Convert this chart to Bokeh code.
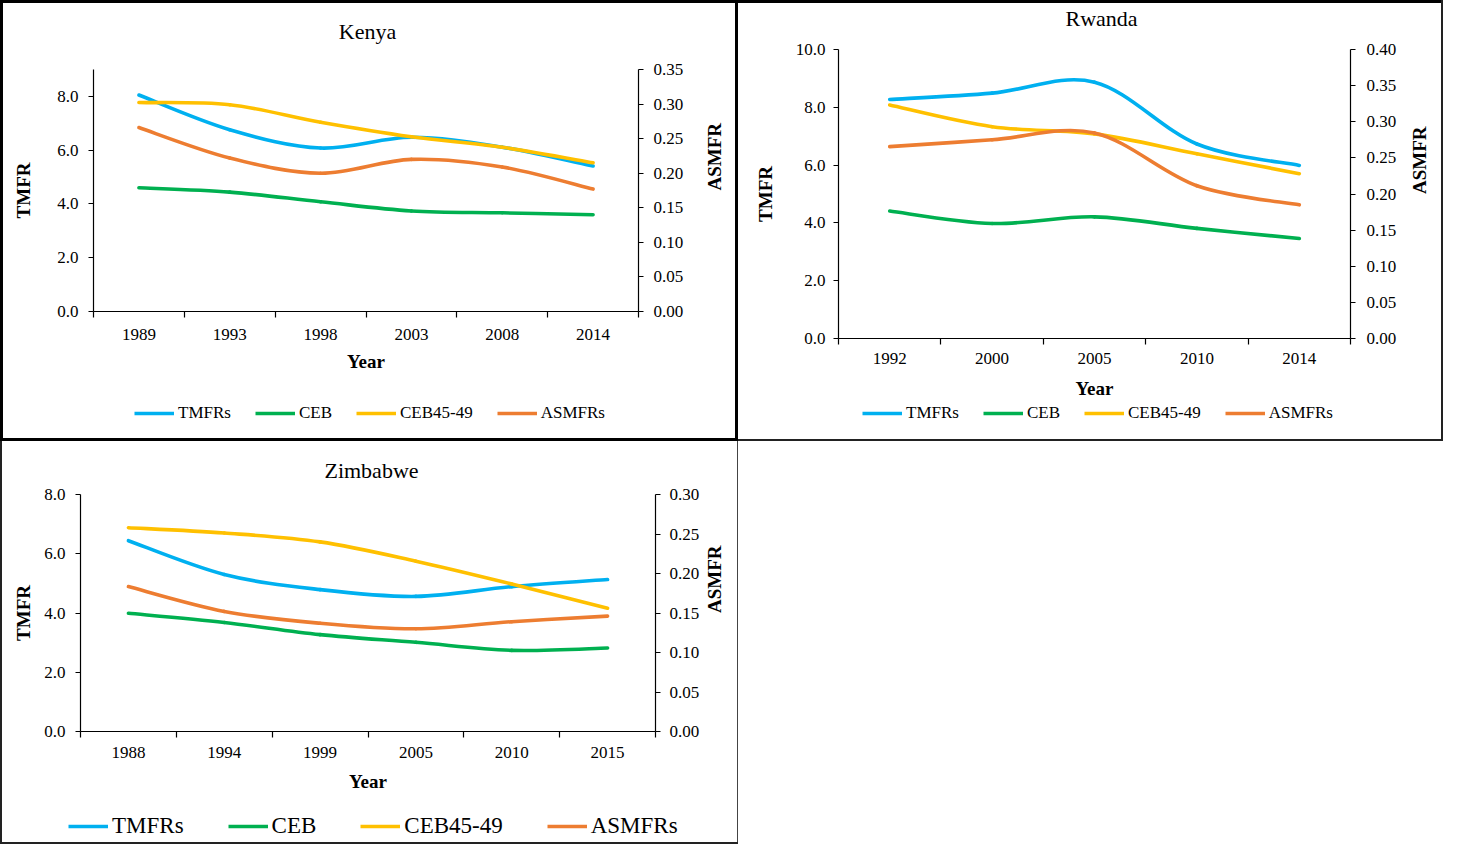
import math
from bokeh.plotting import figure
from bokeh.models import (Range1d, LinearAxis, FixedTicker, NumeralTickFormatter,
                          Legend, LegendItem, Spacer)
from bokeh.layouts import row, column
from bokeh.core.properties import value
from bokeh.embed import file_html
from bokeh.resources import INLINE

FONT = "Liberation Serif"
SERIES = ["TMFRs", "CEB", "CEB45-49", "ASMFRs"]
COLORS = ["#00B0F0", "#00B050", "#FFC000", "#ED7D31"]
LW = 3.6

# ---------------- data ----------------
kenya_years = ["1989", "1993", "1998", "2003", "2008", "2014"]
kenya_tmfrs = [8.05, 6.76, 6.08, 6.48, 6.11, 5.41]
kenya_ceb = [4.60, 4.44, 4.08, 3.74, 3.67, 3.60]
kenya_ceb4549 = [7.77, 7.69, 7.04, 6.50, 6.11, 5.53]
kenya_asmfrs = [0.266, 0.222, 0.200, 0.220, 0.209, 0.177]

rwanda_years = ["1992", "2000", "2005", "2010", "2014"]
rwanda_tmfrs = [8.27, 8.49, 8.87, 6.73, 5.99]
rwanda_ceb = [4.41, 3.98, 4.21, 3.81, 3.46]
rwanda_ceb4549 = [8.08, 7.33, 7.08, 6.39, 5.70]
rwanda_asmfrs = [0.2656, 0.275, 0.2845, 0.2115, 0.185]

zimbabwe_years = ["1988", "1994", "1999", "2005", "2010", "2015"]
zimbabwe_tmfrs = [6.44, 5.30, 4.79, 4.56, 4.89, 5.13]
zimbabwe_ceb = [3.99, 3.68, 3.27, 3.01, 2.74, 2.82]
zimbabwe_ceb4549 = [6.88, 6.70, 6.40, 5.75, 4.98, 4.16]
zimbabwe_asmfrs = [0.1834, 0.152, 0.137, 0.130, 0.139, 0.146]


def bezier_cols(ys):
    """Smoothed-line segments (Catmull-Rom style control points) through the data."""
    n = len(ys)
    xs = list(range(n))
    d = dict(x0=[], y0=[], x1=[], y1=[], cx0=[], cy0=[], cx1=[], cy1=[])
    for i in range(n - 1):
        a = max(i - 1, 0)
        b = min(i + 2, n - 1)
        d["x0"].append(xs[i]); d["y0"].append(ys[i])
        d["x1"].append(xs[i + 1]); d["y1"].append(ys[i + 1])
        d["cx0"].append(xs[i] + (xs[i + 1] - xs[a]) / 6.0)
        d["cy0"].append(ys[i] + (ys[i + 1] - ys[a]) / 6.0)
        d["cx1"].append(xs[i + 1] - (xs[b] - xs[i]) / 6.0)
        d["cy1"].append(ys[i + 1] - (ys[b] - ys[i]) / 6.0)
    return d


def style_axis(ax):
    ax.axis_line_color = "black"
    ax.axis_line_width = 1.2
    ax.major_tick_line_color = "black"
    ax.minor_tick_line_color = "black"
    ax.major_tick_line_width = 1.2
    ax.minor_tick_line_width = 1.2
    ax.major_label_text_font = FONT
    ax.major_label_text_font_size = "17px"
    ax.major_label_text_color = "black"
    ax.axis_label_text_font = FONT
    ax.axis_label_text_font_style = "bold"
    ax.axis_label_text_font_size = "19px"
    ax.axis_label_text_color = "black"


def blank_strip(W, h):
    f = figure(width=W, height=h, x_range=Range1d(0, W), y_range=Range1d(0, h),
               x_axis_type=None, y_axis_type=None, toolbar_location=None,
               output_backend="svg", min_border=0)
    f.border_fill_color = None
    f.background_fill_color = None
    f.outline_line_color = None
    return f


def make_panel(title, years, series, ymax, yticks, rmax, rticks, s):
    n = len(years)
    W = s["W"]
    th, mh, lh = s["th"], s["mh"], s["lh"]

    # ---- title strip ----
    t = blank_strip(W, th)
    t.text(x=[s["tx"]], y=[s["ty"]], text=[title], text_font=value(FONT),
           text_font_size="22px", text_align="center", text_baseline="middle",
           text_color="black")

    # ---- main chart ----
    p = figure(width=W, height=mh, x_range=Range1d(-0.5, n - 0.5),
               y_range=Range1d(0, ymax), output_backend="svg",
               toolbar_location=None,
               min_border_left=s["fl"], min_border_right=W - s["fr"],
               min_border_top=s["ft"], min_border_bottom=s["fbb"])
    p.border_fill_color = None
    p.background_fill_color = None
    p.outline_line_color = None
    p.xgrid.visible = False
    p.ygrid.visible = False

    p.extra_y_ranges = {"r": Range1d(0, rmax)}
    raxis = LinearAxis(y_range_name="r")
    p.add_layout(raxis, "right")

    xa = p.below[0]
    style_axis(xa)
    xa.ticker = FixedTicker(ticks=list(range(n)),
                            minor_ticks=[i - 0.5 for i in range(n + 1)])
    xa.major_label_overrides = {i: y for i, y in enumerate(years)}
    xa.major_tick_out = 0
    xa.major_tick_in = 0
    xa.minor_tick_out = 6
    xa.minor_tick_in = 0
    xa.major_label_standoff = s["xls"]
    xa.axis_label = "Year"
    xa.axis_label_standoff = s["xas"]

    ya = p.left[0]
    style_axis(ya)
    ya.ticker = FixedTicker(ticks=yticks, minor_ticks=[])
    ya.formatter = NumeralTickFormatter(format="0.0")
    ya.major_tick_out = 5
    ya.major_tick_in = 0
    ya.minor_tick_out = 0
    ya.minor_tick_in = 0
    ya.major_label_standoff = s["yls"]
    ya.axis_label = "TMFR"
    ya.axis_label_standoff = s["yas"]

    style_axis(raxis)
    raxis.ticker = FixedTicker(ticks=rticks, minor_ticks=[])
    raxis.formatter = NumeralTickFormatter(format="0.00")
    raxis.major_tick_out = 5
    raxis.major_tick_in = 0
    raxis.minor_tick_out = 0
    raxis.minor_tick_in = 0
    raxis.major_label_standoff = s["rls"]
    raxis.axis_label = "ASMFR"
    raxis.axis_label_standoff = s["ras"]
    raxis.axis_label_orientation = math.pi / 2
    if s.get("rlh"):
        raxis.axis_label_text_line_height = s["rlh"]

    for name, color in zip(SERIES, COLORS):
        ys = series[name]
        kw = {"y_range_name": "r"} if name == "ASMFRs" else {}
        cols = bezier_cols(ys)
        p.bezier(x0=cols["x0"], y0=cols["y0"], x1=cols["x1"], y1=cols["y1"],
                 cx0=cols["cx0"], cy0=cols["cy0"], cx1=cols["cx1"], cy1=cols["cy1"],
                 line_color=color, line_width=LW, line_cap="round", **kw)

    # ---- legend strip (proxy lines lie outside the strip's ranges) ----
    lg = blank_strip(W, lh)
    items = []
    for name, color in zip(SERIES, COLORS):
        proxy = lg.line(x=[-200, -100], y=[-200, -200], line_color=color, line_width=LW)
        items.append(LegendItem(label=name, renderers=[proxy]))
    leg = Legend(items=items, orientation="horizontal", location=s["legloc"],
                 padding=0, margin=0, spacing=s["legsp"], glyph_width=40,
                 glyph_height=s["legh"], label_height=s["legh"], label_standoff=4,
                 border_line_color=None, background_fill_alpha=0,
                 label_text_font=FONT, label_text_font_size=s["legfs"],
                 label_text_color="black")
    lg.add_layout(leg)

    return column(column(t), column(p), column(lg),
                  styles={"box-shadow": s["shadow"]})


kenya = make_panel(
    "Kenya", kenya_years,
    {"TMFRs": kenya_tmfrs, "CEB": kenya_ceb, "CEB45-49": kenya_ceb4549, "ASMFRs": kenya_asmfrs},
    9.0, [0, 2, 4, 6, 8], 0.35, [0, 0.05, 0.10, 0.15, 0.20, 0.25, 0.30, 0.35],
    dict(W=738, th=50, mh=327, lh=64, tx=367, ty=19,
         fl=93, fr=640, ft=19, fbb=66,
         xls=11, xas=8, yls=10, yas=20, rls=10, ras=28,
         legloc=(134, 18), legsp=24, legh=20, legfs="17px",
         shadow="inset 0 0 0 3px #000"))

rwanda = make_panel(
    "Rwanda", rwanda_years,
    {"TMFRs": rwanda_tmfrs, "CEB": rwanda_ceb, "CEB45-49": rwanda_ceb4549, "ASMFRs": rwanda_asmfrs},
    10.0, [0, 2, 4, 6, 8, 10], 0.40, [0, 0.05, 0.10, 0.15, 0.20, 0.25, 0.30, 0.35, 0.40],
    dict(W=705, th=34, mh=368, lh=39, tx=363, ty=16,
         fl=100, fr=612, ft=15, fbb=64,
         xls=8, xas=11, yls=8, yas=17, rls=11, ras=20, rlh=0.5,
         legloc=(124, 18), legsp=24, legh=18, legfs="17px",
         shadow="inset -2px -2px 0 0 #222, inset 0 3px 0 0 #000"))

zimbabwe = make_panel(
    "Zimbabwe", zimbabwe_years,
    {"TMFRs": zimbabwe_tmfrs, "CEB": zimbabwe_ceb, "CEB45-49": zimbabwe_ceb4549, "ASMFRs": zimbabwe_asmfrs},
    8.0, [0, 2, 4, 6, 8], 0.30, [0, 0.05, 0.10, 0.15, 0.20, 0.25, 0.30],
    dict(W=738, th=43, mh=313, lh=47, tx=371, ty=14,
         fl=80, fr=659, ft=10, fbb=66,
         xls=9, xas=10, yls=10, yas=7, rls=9, ras=12,
         legloc=(68, 5), legsp=44, legh=26, legfs="23px",
         shadow="inset 2px -2px 0 0 #222, inset -1px 0 0 0 #444"))

layout = column(row(kenya, rwanda), row(zimbabwe, Spacer(width=705, height=403)))

open("out.html", "w").write(file_html(layout, INLINE))
